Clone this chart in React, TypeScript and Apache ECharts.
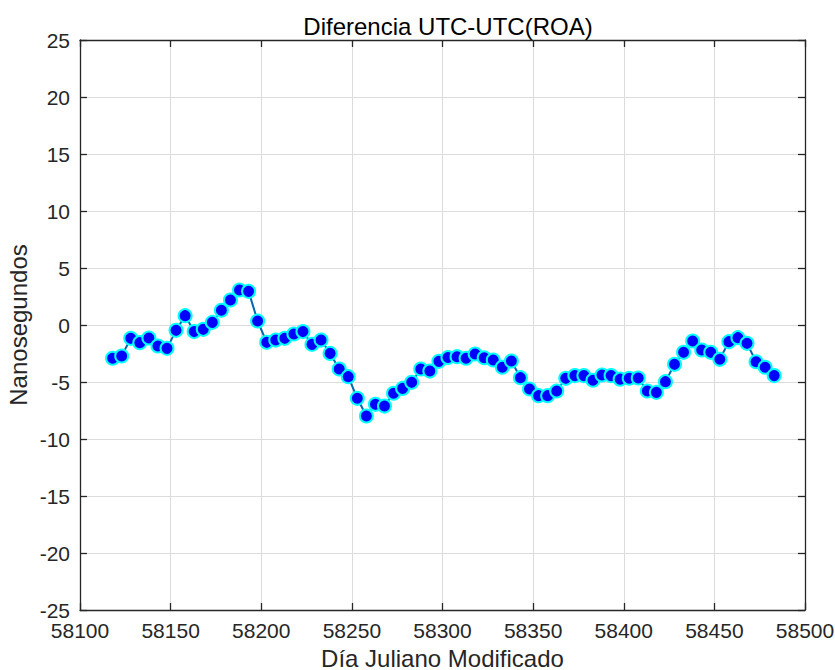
import React, { useEffect, useRef } from "react";
import * as echarts from "echarts";

const startDay = 58118;
const stepDays = 5;
const values = [
  -2.92, -2.72, -1.17, -1.55, -1.14, -1.84, -2.05, -0.47, 0.82, -0.58,
  -0.38, 0.23, 1.29, 2.19, 3.07, 2.95, 0.35, -1.52, -1.32, -1.17,
  -0.79, -0.58, -1.7, -1.32, -2.49, -3.86, -4.53, -6.43, -7.98, -6.96,
  -7.11, -5.99, -5.56, -5.03, -3.86, -4.04, -3.19, -2.85, -2.78, -2.92,
  -2.54, -2.87, -3.07, -3.71, -3.16, -4.62, -5.61, -6.2, -6.2, -5.79,
  -4.68, -4.44, -4.44, -4.85, -4.39, -4.44, -4.75, -4.67, -4.65, -5.79,
  -5.91, -4.97, -3.45, -2.4, -1.4, -2.19, -2.4, -3.01, -1.46, -1.11,
  -1.61, -3.22, -3.71, -4.44,
];
const days = values.map((_, i) => startDay + i * stepDays);

const FONT = "Liberation Sans";
const AXIS_COLOR = "#262626";

export default function App() {
  const ref = useRef<HTMLDivElement>(null);
  useEffect(() => {
    document.body.style.margin = "0";
    const chart = echarts.init(ref.current!, null, { renderer: "svg" });
    const tickCommon = { show: true, inside: true, length: 7, lineStyle: { color: AXIS_COLOR, width: 1.3 } };
    const lineCommon = { show: true, onZero: false, lineStyle: { color: AXIS_COLOR, width: 1.3 } };
    const splitCommon = { show: true, lineStyle: { color: "#dcdcdc", width: 1 } };
    chart.setOption({
      animation: false,
      backgroundColor: "#ffffff",
      title: {
        text: "Diferencia UTC-UTC(ROA)",
        left: 443,
        top: 9,
        textAlign: "center",
        textStyle: { fontFamily: FONT, fontSize: 24, fontWeight: "normal", color: "#000" },
      },
      grid: { left: 80, right: 30, top: 40, bottom: 60, containLabel: false, outerBoundsMode: "none" },
      xAxis: [
        {
          type: "value",
          position: "bottom",
          min: 58100,
          max: 58500,
          interval: 50,
          axisLine: lineCommon,
          axisTick: tickCommon,
          splitLine: splitCommon,
          axisLabel: {
            fontFamily: FONT,
            fontSize: 21,
            color: "#262626",
            margin: 10,
            formatter: (v: number) => String(v),
          },
          name: "Día Juliano Modificado",
          nameLocation: "middle",
          nameGap: 36,
          nameMoveOverlap: false,
          nameTextStyle: { fontFamily: FONT, fontSize: 24, color: "#262626" },
        },
        {
          type: "value",
          position: "top",
          min: 58100,
          max: 58500,
          interval: 50,
          axisLine: lineCommon,
          axisTick: tickCommon,
          splitLine: { show: false },
          axisLabel: { show: false },
        },
      ],
      yAxis: [
        {
          type: "value",
          position: "left",
          min: -25,
          max: 25,
          interval: 5,
          axisLine: lineCommon,
          axisTick: tickCommon,
          splitLine: splitCommon,
          axisLabel: { fontFamily: FONT, fontSize: 21, color: "#262626", margin: 10 },
          name: "Nanosegundos",
          nameLocation: "middle",
          nameGap: 50,
          nameMoveOverlap: false,
          nameTextStyle: { fontFamily: FONT, fontSize: 24, color: "#262626" },
        },
        {
          type: "value",
          position: "right",
          min: -25,
          max: 25,
          interval: 5,
          axisLine: lineCommon,
          axisTick: tickCommon,
          splitLine: { show: false },
          axisLabel: { show: false },
        },
      ],
      series: [
        {
          type: "line",
          xAxisIndex: 0,
          yAxisIndex: 0,
          data: days.map((d, i) => [d, values[i]]),
          lineStyle: { color: "#0068AD", width: 2 },
          symbol: "circle",
          symbolSize: 13,
          itemStyle: { color: "#0000FF", borderColor: "#00FFFF", borderWidth: 2 },
        },
      ],
    });
    return () => chart.dispose();
  }, []);
  return <div ref={ref} style={{ width: 835, height: 670 }} />;
}
